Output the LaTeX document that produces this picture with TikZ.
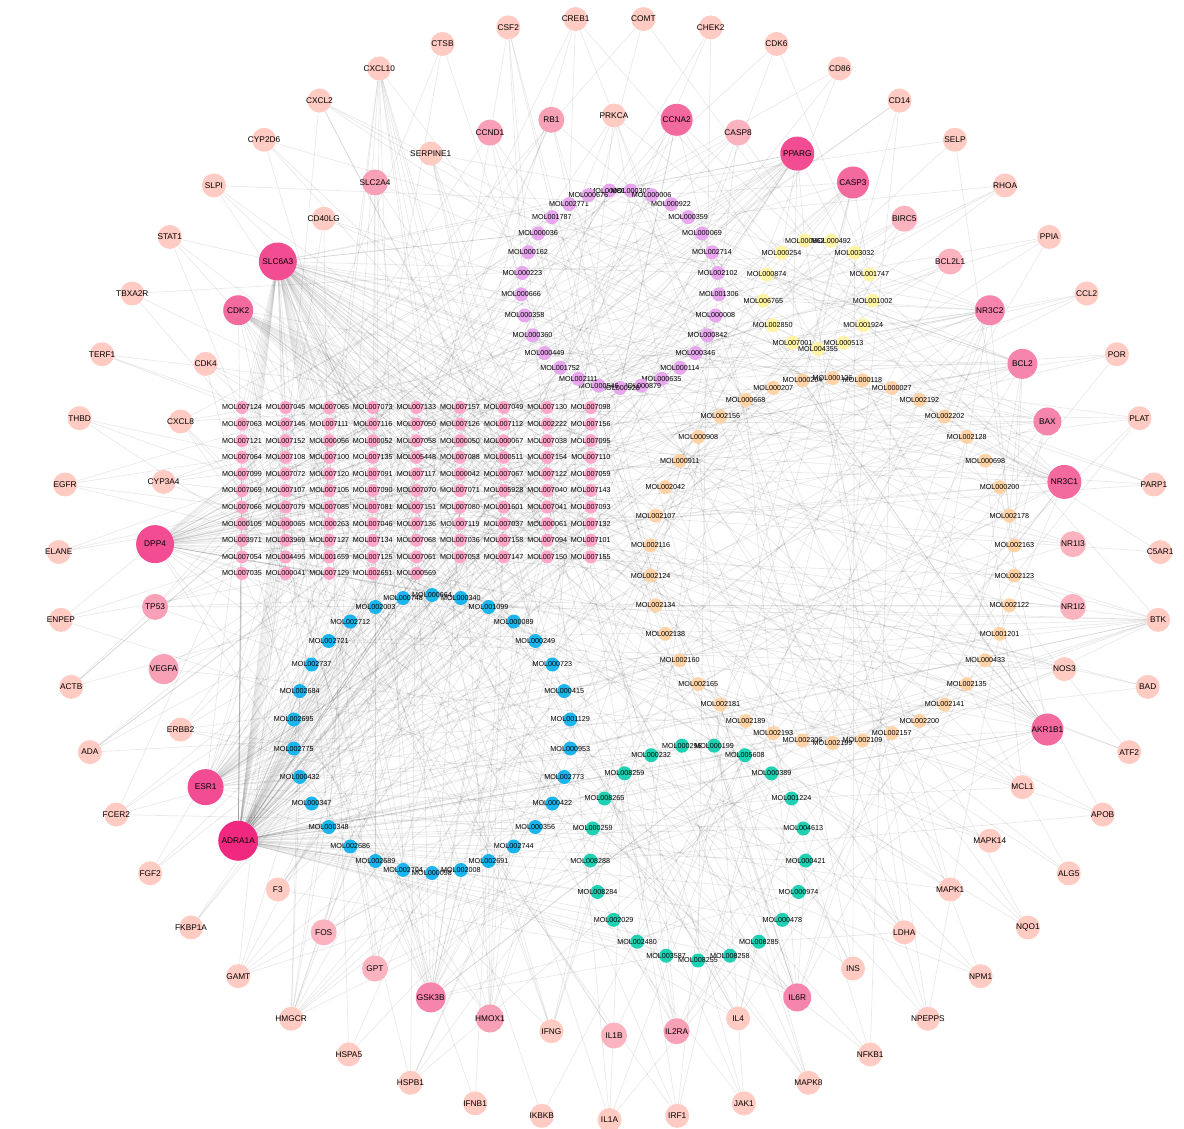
\documentclass[tikz,border=0pt]{standalone}
\usepackage{fontspec}
\setmainfont{Liberation Sans}
\pgfdeclarelayer{paper}\pgfdeclarelayer{bg}
\pgfsetlayers{paper,bg,main}
\definecolor{gl}{HTML}{FFCBC2}
\definecolor{gm}{HTML}{FBB4BF}
\definecolor{gp}{HTML}{F8A0B6}
\definecolor{gq}{HTML}{F585AC}
\definecolor{gs}{HTML}{F26A9E}
\definecolor{gt}{HTML}{F24D93}
\definecolor{gu}{HTML}{F0287F}
\definecolor{purp}{HTML}{E7A6EE}
\definecolor{yel}{HTML}{FFF3A6}
\definecolor{ora}{HTML}{FFD3A6}
\definecolor{blu}{HTML}{19B5EC}
\definecolor{grn}{HTML}{1FD1B2}
\definecolor{gridp}{HTML}{FFA6C9}
\tikzset{
  gene/.style={circle,inner sep=0pt,draw=none},
  glab/.style={font=\fontsize{8.3}{9}\selectfont,text=black,inner sep=0pt},
  mol/.style={circle,inner sep=0pt,minimum size=14pt,draw=none},
  mlab/.style={font=\fontsize{7.2}{8}\selectfont,text=black,inner sep=0pt},
  edge/.style={draw=black,opacity=0.085,line width=0.7pt}
}
\newcommand\molring[8]{%
  \foreach \nm [count=\i from 0] in {#8} {
    \pgfmathsetmacro\ang{#6-#7*\i}
    \node[mol,fill=#2,label={[mlab]center:\nm}] (#1\i) at ({#3+#5*cos(\ang)},{#4-#5*sin(\ang)}) {};
  }}
\begin{document}
\begin{tikzpicture}[x=1pt,y=-1pt]
\useasboundingbox (0,0) rectangle (1184,1129);
\begin{pgfonlayer}{paper}\fill[white] (0,0) rectangle (1184,1129);\end{pgfonlayer}
% outer ring of targets
\foreach \nm [count=\i from 0] in {COMT,CHEK2,CDK6,CD86,CD14,SELP,RHOA,PPIA,CCL2,POR,PLAT,PARP1,C5AR1,BTK,BAD,ATF2,APOB,ALG5,NQO1,NPM1,NPEPPS,NFKB1,MAPK8,JAK1,IRF1,IL1A,IKBKB,IFNB1,HSPB1,HSPA5,HMGCR,GAMT,FKBP1A,FGF2,FCER2,ADA,ACTB,ENPEP,ELANE,EGFR,THBD,TERF1,TBXA2R,STAT1,SLPI,CYP2D6,CXCL2,CXCL10,CTSB,CSF2,CREB1} {
  \pgfmathsetmacro\ang{86.47-7.0588*\i}
  \node[gene,fill=gl,minimum size=24pt,label={[glab]center:\nm}] (g\i) at ({609.5+551*cos(\ang)},{569-551*sin(\ang)}) {};
}
% inner ring of targets
\foreach \nm/\sz/\cl [count=\i from 0] in {PRKCA/12/gl,CCNA2/16/gs,CASP8/13/gm,PPARG/17/gt,CASP3/16/gs,BIRC5/13/gm,BCL2L1/13/gm,NR3C2/15/gq,BCL2/15/gq,BAX/14/gq,NR3C1/17/gs,NR1I3/13/gm,NR1I2/13/gm,NOS3/12/gl,AKR1B1/16/gs,MCL1/12/gl,MAPK14/12/gl,MAPK1/12/gl,LDHA/12/gl,INS/12/gl,IL6R/14/gq,IL4/12/gl,IL2RA/13/gp,IL1B/13/gm,IFNG/12/gl,HMOX1/14/gp,GSK3B/15/gq,GPT/13/gm,FOS/13/gm,F3/12/gl,ADRA1A/20/gu,ESR1/18/gt,ERBB2/12/gl,VEGFA/15/gp,TP53/13/gp,DPP4/19/gt,CYP3A4/12/gl,CXCL8/12/gl,CDK4/12/gl,CDK2/15/gs,SLC6A3/19/gt,CD40LG/12/gl,SLC2A4/13/gp,SERPINE1/12/gl,CCND1/13/gp,RB1/13/gp} {
  \pgfmathsetmacro\ang{90-7.8261*\i}
  \node[gene,fill=\cl,minimum size=\sz*2pt,label={[glab]center:\nm}] (h\i) at ({614+460*cos(\ang)},{575.5-460*sin(\ang)}) {};
}
% compound rings
\molring{p}{purp}{620}{289}{99}{96.2}{12.414}{MOL000860,MOL000300,MOL000006,MOL000922,MOL000359,MOL000069,MOL002714,MOL002102,MOL001306,MOL000008,MOL000842,MOL000346,MOL000114,MOL000635,MOL000879,MOL000928,MOL000546,MOL002111,MOL001752,MOL000449,MOL000360,MOL000358,MOL000666,MOL000223,MOL000162,MOL000036,MOL001787,MOL002771,MOL000676}
\molring{y}{yel}{818}{294}{55}{103.85}{27.692}{MOL000862,MOL000492,MOL003032,MOL001747,MOL001002,MOL001924,MOL000513,MOL004355,MOL007001,MOL002850,MOL006765,MOL000874,MOL000254}
\molring{o}{ora}{832.5}{560.5}{182.5}{90}{9.4737}{MOL000126,MOL000118,MOL000027,MOL002192,MOL002202,MOL002128,MOL000698,MOL000200,MOL002178,MOL002163,MOL002123,MOL002122,MOL001201,MOL000433,MOL002135,MOL002141,MOL002200,MOL002157,MOL002109,MOL002199,MOL002206,MOL002193,MOL002189,MOL002181,MOL002165,MOL002160,MOL002138,MOL002134,MOL002124,MOL002116,MOL002107,MOL002042,MOL000911,MOL000908,MOL002156,MOL000668,MOL000207,MOL000204}
\molring{b}{blu}{432}{734}{139}{90}{12}{MOL000664,MOL000340,MOL001099,MOL000089,MOL000249,MOL000723,MOL000415,MOL001129,MOL000953,MOL002773,MOL000422,MOL000356,MOL002744,MOL002691,MOL002008,MOL000098,MOL002704,MOL002689,MOL002686,MOL000348,MOL000347,MOL000432,MOL002775,MOL002695,MOL002684,MOL002737,MOL002721,MOL002712,MOL002003,MOL000748}
\molring{t}{grn}{698}{852.5}{108}{81.43}{17.143}{MOL000199,MOL005608,MOL000389,MOL001224,MOL004613,MOL000421,MOL000974,MOL000478,MOL008285,MOL008258,MOL008255,MOL003587,MOL002480,MOL002029,MOL008284,MOL008288,MOL000259,MOL008265,MOL008259,MOL000232,MOL000296}
% compound grid
\foreach \nm [count=\k from 0] in {MOL007124,MOL007045,MOL007065,MOL007073,MOL007133,MOL007157,MOL007049,MOL007130,MOL007098,
MOL007063,MOL007145,MOL007111,MOL007116,MOL007050,MOL007126,MOL007112,MOL002222,MOL007156,
MOL007121,MOL007152,MOL000056,MOL000052,MOL007058,MOL000050,MOL000067,MOL007038,MOL007095,
MOL007064,MOL007108,MOL007100,MOL007135,MOL005448,MOL007088,MOL000511,MOL007154,MOL007110,
MOL007099,MOL007072,MOL007120,MOL007091,MOL007117,MOL000042,MOL007067,MOL007122,MOL007059,
MOL007069,MOL007107,MOL007105,MOL007090,MOL007070,MOL007071,MOL005928,MOL007040,MOL007143,
MOL007066,MOL007079,MOL007085,MOL007081,MOL007151,MOL007080,MOL001601,MOL007041,MOL007093,
MOL000105,MOL000065,MOL000263,MOL007046,MOL007136,MOL007119,MOL007037,MOL000061,MOL007132,
MOL003971,MOL003969,MOL007127,MOL007134,MOL007068,MOL007036,MOL007158,MOL007094,MOL007101,
MOL007054,MOL004495,MOL001659,MOL007125,MOL007061,MOL007053,MOL007147,MOL007150,MOL007155,
MOL007035,MOL000041,MOL007129,MOL002651,MOL000569} {
  \pgfmathtruncatemacro\rr{div(\k,9)}
  \pgfmathtruncatemacro\cc{mod(\k,9)}
  \node[mol,minimum size=13pt,fill=gridp,label={[mlab]center:\nm}] (m\k) at ({242+43.6*\cc},{407.5+16.6*\rr}) {};
}
% edges
\begin{pgfonlayer}{bg}
\foreach \k in {0,...,94} {
  \pgfmathtruncatemacro\ea{{40,30,40,35,40,30,39,40,31}[mod(\k,9)]}
  \pgfmathtruncatemacro\eb{{30,40,35,39,30,31,40,3,30,26}[mod(\k,10)]}
  \pgfmathtruncatemacro\ec{mod(7*\k+3,51)}
  \pgfmathtruncatemacro\ed{mod(11*\k+2,46)}
  \draw[edge] (m\k) -- (h\ea) (m\k) -- (h\eb) (m\k) -- (g\ec) (m\k) -- (h\ed);
}
\foreach \k in {0,...,28} {
  \pgfmathtruncatemacro\ea{{3,1,4,10,7,8,14}[mod(\k,7)]}
  \pgfmathtruncatemacro\eb{{30,40,35}[mod(\k,3)]}
  \pgfmathtruncatemacro\ec{mod(13*\k+5,51)}
  \pgfmathtruncatemacro\ed{mod(17*\k+9,46)}
  \draw[edge] (p\k) -- (h\ea) (p\k) -- (h\eb) (p\k) -- (g\ec) (p\k) -- (h\ed);
}
\foreach \k in {0,...,12} {
  \pgfmathtruncatemacro\ea{{3,10,7,4}[mod(\k,4)]}
  \pgfmathtruncatemacro\ec{mod(11*\k+20,51)}
  \pgfmathtruncatemacro\ed{mod(9*\k+1,46)}
  \draw[edge] (y\k) -- (h\ea) (y\k) -- (g\ec) (y\k) -- (h\ed);
}
\foreach \k in {0,...,37} {
  \pgfmathtruncatemacro\ea{{10,14,8,9,7,20}[mod(\k,6)]}
  \pgfmathtruncatemacro\eb{{30,31,35,40}[mod(\k,4)]}
  \pgfmathtruncatemacro\ec{mod(5*\k+11,51)}
  \pgfmathtruncatemacro\ed{mod(13*\k+29,46)}
  \draw[edge] (o\k) -- (h\ea) (o\k) -- (h\eb) (o\k) -- (g\ec) (o\k) -- (h\ed);
}
\foreach \k in {0,...,29} {
  \pgfmathtruncatemacro\eb{{31,35,26,25,40}[mod(\k,5)]}
  \pgfmathtruncatemacro\ec{mod(17*\k+30,51)}
  \pgfmathtruncatemacro\ed{mod(7*\k+15,46)}
  \draw[edge] (b\k) -- (h30) (b\k) -- (h\eb) (b\k) -- (g\ec) (b\k) -- (h\ed);
}
\foreach \k in {0,...,20} {
  \pgfmathtruncatemacro\ea{{20,26,14,21,22}[mod(\k,5)]}
  \pgfmathtruncatemacro\ec{mod(3*\k+22,51)}
  \pgfmathtruncatemacro\ed{mod(19*\k+4,46)}
  \draw[edge] (t\k) -- (h\ea) (t\k) -- (h30) (t\k) -- (g\ec) (t\k) -- (h\ed);
}
\end{pgfonlayer}
\end{tikzpicture}
\end{document}
